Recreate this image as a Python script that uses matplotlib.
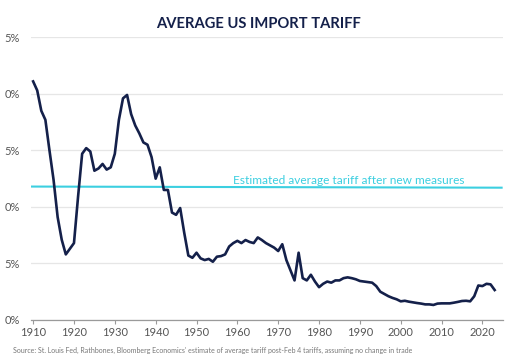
import matplotlib.pyplot as plt

# ---------------------------------------------------------------------------
# Data
# ---------------------------------------------------------------------------

years = list(range(1910, 2024))
tariff = [
    21.1, 20.3, 18.5, 17.7, 15.0, 12.4, 9.1, 7.1, 5.8, 6.3,      # 1910s
    6.8, 10.9, 14.7, 15.2, 14.9, 13.2, 13.4, 13.8, 13.3, 13.5,   # 1920s
    14.7, 17.7, 19.6, 19.9, 18.2, 17.2, 16.5, 15.7, 15.5, 14.4,  # 1930s
    12.5, 13.5, 11.5, 11.5, 9.5, 9.3, 9.9, 7.7, 5.7, 5.5,        # 1940s
    5.95, 5.45, 5.3, 5.4, 5.15, 5.6, 5.65, 5.8, 6.5, 6.8,        # 1950s
    7.0, 6.8, 7.07, 6.9, 6.8, 7.3, 7.07, 6.8, 6.6, 6.4,          # 1960s
    6.1, 6.7, 5.3, 4.4, 3.5, 5.95, 3.7, 3.5, 4.0, 3.4,           # 1970s
    2.9, 3.2, 3.4, 3.3, 3.5, 3.5, 3.7, 3.77, 3.7, 3.6,           # 1980s
    3.45, 3.4, 3.35, 3.3, 3.0, 2.5, 2.3, 2.1, 1.95, 1.83,        # 1990s
    1.65, 1.7, 1.62, 1.56, 1.5, 1.45, 1.38, 1.38, 1.33, 1.45,    # 2000s
    1.47, 1.47, 1.47, 1.53, 1.6, 1.68, 1.7, 1.65, 2.1, 3.05,     # 2010s
    3.0, 3.2, 3.15, 2.65,                                        # 2020s
]

estimate_x = [1909.4, 2024.7]
estimate_y = [11.8, 11.7]

y_ticks = [0, 5, 10, 15, 20, 25]
y_tick_labels = ['0%', '5%', '0%', '5%', '0%', '5%']   # clipped as in the source image
x_ticks = list(range(1910, 2030, 10))

NAVY = '#14204a'
CYAN = '#3ccfe0'
GREY = '#555555'

plt.rcParams['font.family'] = ['Lato', 'DejaVu Sans']

fig = plt.figure(figsize=(5.2, 3.61), dpi=100)
ax = fig.add_axes([0.059, 0.1136, 0.908, 0.7831])

ax.plot(years, tariff, color=NAVY, lw=1.9, solid_joinstyle='round', zorder=3)
ax.plot(estimate_x, estimate_y, color=CYAN, lw=1.5, zorder=2)
ax.text(1958.9, 12.05, 'Estimated average tariff after new measures',
        color=CYAN, fontsize=8.6, ha='left', va='baseline')

ax.set_xlim(1909.4, 2025)
ax.set_ylim(0, 25)
ax.set_yticks(y_ticks)
ax.set_yticklabels(y_tick_labels)
ax.set_xticks(x_ticks)

ax.grid(axis='y', color='#e6e6e6', lw=0.9)
ax.set_axisbelow(True)
for side in ('top', 'right', 'left'):
    ax.spines[side].set_visible(False)
ax.spines['bottom'].set_color('#9a9a9a')
ax.spines['bottom'].set_linewidth(0.9)

ax.tick_params(axis='y', length=0, pad=8, labelsize=8, labelcolor=GREY)
ax.tick_params(axis='x', length=3, width=0.8, color='#9a9a9a', pad=2,
               labelsize=8, labelcolor=GREY)

fig.text(0.497, 0.934, 'AVERAGE US IMPORT TARIFF', ha='center', va='center',
         fontsize=10.6, fontweight='bold', color=NAVY)
fig.text(0.025, 0.030, "Source: St. Louis Fed, Rathbones, Bloomberg Economics' estimate "
         "of average tariff post-Feb 4 tariffs, assuming no change in trade",
         ha='left', va='center', fontsize=5.0, color='#777777')

fig.savefig('out.png', dpi=100)
